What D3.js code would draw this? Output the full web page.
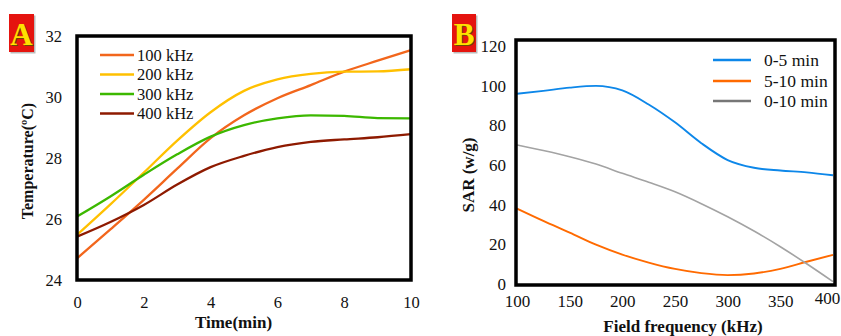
<!DOCTYPE html>
<html>
<head>
<meta charset="utf-8">
<script src="https://cdn.jsdelivr.net/npm/d3@7"></script>
<style>
  html, body { margin: 0; padding: 0; background: #fff; }
  svg { display: block; }
  text { font-family: "Liberation Serif", "Times New Roman", serif; fill: #111; }
</style>
</head>
<body>
<svg id="chart" width="841" height="336"></svg>
<script>
// ---------- Panel A data ----------
const timeMin = [0, 1, 2, 3, 4, 5, 6, 7, 8, 9, 10];
const temp100 = [24.71, 25.66, 26.63, 27.65, 28.65, 29.40, 29.96, 30.39, 30.83, 31.19, 31.54];
const temp200 = [25.48, 26.48, 27.52, 28.57, 29.50, 30.20, 30.58, 30.76, 30.83, 30.84, 30.91];
const temp300 = [26.08, 26.74, 27.45, 28.12, 28.70, 29.08, 29.30, 29.40, 29.38, 29.31, 29.30];
const temp400 = [25.42, 25.90, 26.46, 27.13, 27.70, 28.07, 28.36, 28.53, 28.61, 28.68, 28.78];
const seriesA = ["100 kHz", "200 kHz", "300 kHz", "400 kHz"];
const colorsA = ["#F2661C", "#FFC000", "#3CB800", "#8E1A00"];
const xTicksA = [0, 2, 4, 6, 8, 10];
const yTicksA = [24, 26, 28, 30, 32];

// ---------- Panel B data ----------
const freqKHz = [100, 125, 150, 175, 200, 225, 250, 275, 300, 325, 350, 375, 400];
const sar0to5 = [95.9, 97.4, 99.0, 99.9, 97.6, 90.5, 81.5, 71.0, 62.5, 58.6, 57.2, 56.3, 54.8];
const sar5to10 = [38.0, 31.8, 25.9, 19.8, 14.8, 10.8, 7.6, 5.5, 4.5, 5.3, 7.6, 11.2, 14.7];
const sar0to10 = [70.1, 67.3, 64.2, 60.5, 55.8, 51.3, 46.5, 40.5, 33.9, 26.7, 18.8, 10.2, 1.2];
const seriesB = ["0-5 min", "5-10 min", "0-10 min"];
const colorsB = ["#0D87E9", "#FF6A00", "#A3A3A3"];
const xTicksB = [100, 150, 200, 250, 300, 350, 400];
const yTicksB = [0, 20, 40, 60, 80, 100, 120];

const FONT = '"Liberation Serif", "Times New Roman", serif';
const svg = d3.select("#chart");

function badge(x, y, w, h, letter) {
  const g = svg.append("g");
  g.append("rect").attr("x", x + 1.5).attr("y", y + 1.5).attr("width", w).attr("height", h).attr("fill", "#bbb");
  g.append("rect").attr("x", x).attr("y", y).attr("width", w).attr("height", h).attr("fill", "#E5140F");
  g.append("text").attr("x", x + w / 2 + 1).attr("y", y + h - 6).attr("text-anchor", "middle")
    .attr("font-family", FONT).style("font-size", "31px").style("font-weight", "bold").style("fill", "#6b4a00").text(letter);
  g.append("text").attr("x", x + w / 2).attr("y", y + h - 7).attr("text-anchor", "middle")
    .attr("font-family", FONT).style("font-size", "31px").style("font-weight", "bold").style("fill", "#FFE100").text(letter);
}

// ================= Panel A =================
const xA = d3.scaleLinear().domain([0, 10]).range([77, 411]);
const yA = d3.scaleLinear().domain([24, 32]).range([280, 36]);

const axA_x = svg.append("g").attr("transform", "translate(0,280)")
  .call(d3.axisBottom(xA).tickValues(xTicksA).tickSize(0).tickPadding(16).tickFormat(d3.format("d")));
const axA_y = svg.append("g").attr("transform", "translate(77,0)")
  .call(d3.axisLeft(yA).tickValues(yTicksA).tickSize(0).tickPadding(15).tickFormat(d3.format("d")));
[axA_x, axA_y].forEach(a => {
  a.attr("font-family", FONT);
  a.select(".domain").remove();
  a.selectAll("text").attr("font-family", FONT).style("font-size", "16.5px").attr("fill", "#111");
});

const lineA = d3.line().x((d, i) => xA(timeMin[i])).y(d => yA(d)).curve(d3.curveMonotoneX);
[temp100, temp200, temp300, temp400].forEach((s, k) => {
  svg.append("path").datum(s).attr("d", lineA).attr("fill", "none")
    .attr("stroke", colorsA[k]).attr("stroke-width", 2.3);
});

svg.append("rect").attr("x", xA(0)).attr("y", yA(32)).attr("width", xA(10) - xA(0)).attr("height", yA(24) - yA(32))
  .attr("fill", "none").attr("stroke", "#000").attr("stroke-width", 3.5);

// legend A
seriesA.forEach((name, k) => {
  const yy = 55 + k * 19.5;
  svg.append("line").attr("x1", 100).attr("x2", 134).attr("y1", yy).attr("y2", yy)
    .attr("stroke", colorsA[k]).attr("stroke-width", 2.6);
  svg.append("text").attr("x", 137).attr("y", yy + 5.5).attr("font-family", FONT).style("font-size", "16.5px").text(name);
});

svg.append("text").attr("x", 233.5).attr("y", 328).attr("text-anchor", "middle").attr("font-family", FONT)
  .style("font-size", "17px").style("font-weight", "bold").text("Time(min)");
svg.append("text").attr("transform", "translate(33,161) rotate(-90)").attr("text-anchor", "middle").attr("font-family", FONT)
  .style("font-size", "16px").style("font-weight", "bold").text("Temperature(ºC)");

badge(9, 14, 25, 38, "A");

// ================= Panel B =================
const xB = d3.scaleLinear().domain([100, 400]).range([517, 833]);
const yB = d3.scaleLinear().domain([0, 120]).range([284, 46]);

const axB_x = svg.append("g").attr("transform", "translate(0,284)")
  .call(d3.axisBottom(xB).tickValues(xTicksB).tickSize(0).tickPadding(11).tickFormat(d3.format("d")));
const axB_y = svg.append("g").attr("transform", "translate(517,0)")
  .call(d3.axisLeft(yB).tickValues(yTicksB).tickSize(0).tickPadding(11).tickFormat(d3.format("d")));
[axB_x, axB_y].forEach(a => {
  a.attr("font-family", FONT);
  a.select(".domain").remove();
  a.selectAll("text").attr("font-family", FONT).style("font-size", "17px").attr("fill", "#111");
});
// last x label sits a little left and higher in the reference (kept inside the window)
axB_x.selectAll(".tick").filter(d => d === 400).select("text").attr("dx", "-6").attr("dy", "0.5em");

const lineB = d3.line().x((d, i) => xB(freqKHz[i])).y(d => yB(d)).curve(d3.curveMonotoneX);
[sar0to5, sar5to10, sar0to10].forEach((s, k) => {
  svg.append("path").datum(s).attr("d", lineB).attr("fill", "none")
    .attr("stroke", colorsB[k]).attr("stroke-width", k === 2 ? 1.6 : 1.9);
});

svg.append("rect").attr("x", 516).attr("y", 40).attr("width", 835 - 516).attr("height", 285 - 40)
  .attr("fill", "none").attr("stroke", "#000").attr("stroke-width", 3.5);

// legend B
seriesB.forEach((name, k) => {
  const yy = [60, 81, 101][k];
  svg.append("line").attr("x1", 713).attr("x2", 751).attr("y1", yy).attr("y2", yy)
    .attr("stroke", k === 2 ? "#777" : colorsB[k]).attr("stroke-width", 2.6);
  svg.append("text").attr("x", 764).attr("y", yy + 6).attr("font-family", FONT).style("font-size", "17.5px").text(name);
});

svg.append("text").attr("x", 683).attr("y", 332).attr("text-anchor", "middle").attr("font-family", FONT)
  .style("font-size", "17px").style("font-weight", "bold").text("Field frequency (kHz)");
svg.append("text").attr("transform", "translate(474,175) rotate(-90)").attr("text-anchor", "middle").attr("font-family", FONT)
  .style("font-size", "17px").style("font-weight", "bold").text("SAR (w/g)");

badge(452, 14, 24, 38, "B");
</script>
</body>
</html>
